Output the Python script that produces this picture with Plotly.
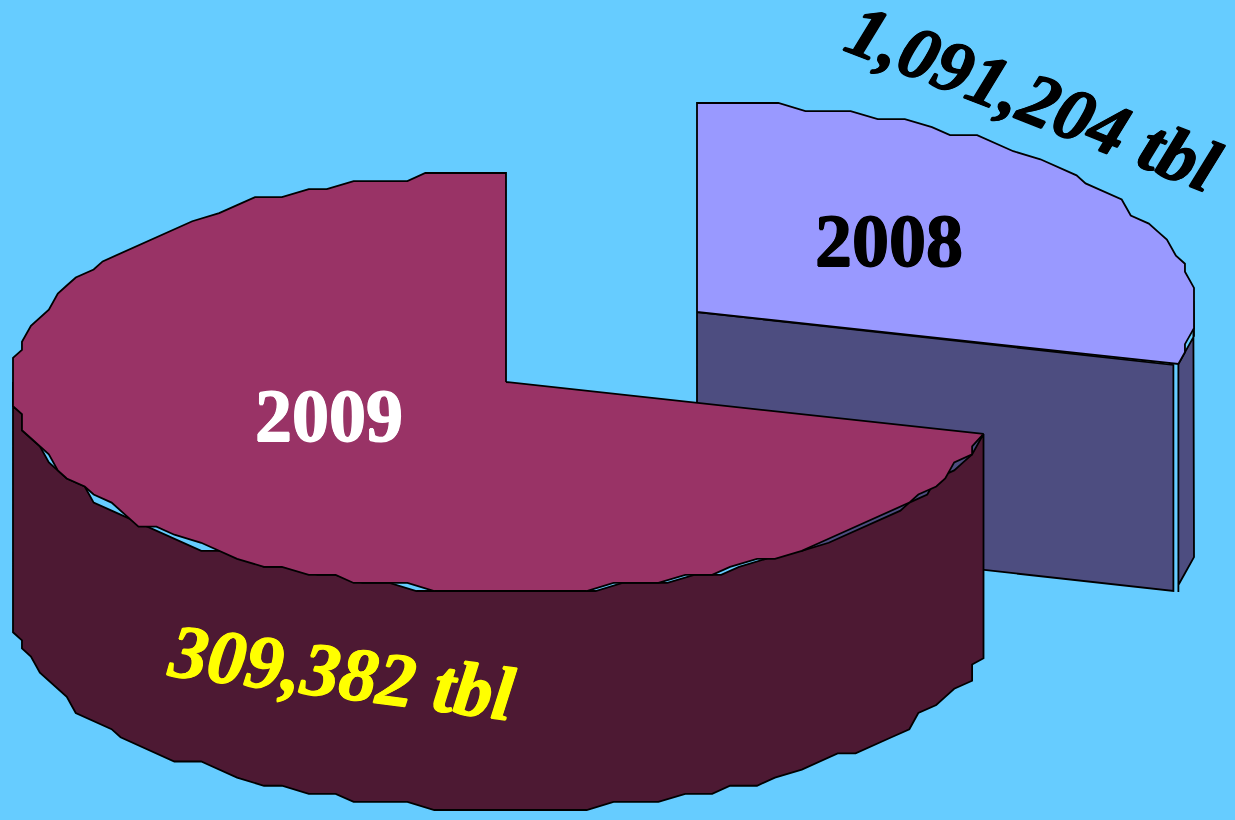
import math
import plotly.graph_objects as go

# Data
years = ["2008", "2009"]
barrels = ["1,091,204 tbl", "309,382 tbl"]
slice_shares = [0.29, 0.71]  # angular share of the pie as drawn in the picture

# Pie geometry (axis units equal image pixels)
START = 90.0
A, B = 493.0, 209.0
DEPTH = 226.0
CENTER_2009 = (506.0, 382.0)
CENTER_2008 = (697.0, 312.0)
STEP = 3.0

BG = "#66CCFF"
TOP_2008, WALL_2008 = "#9999FF", "#4D4D80"
TOP_2009, WALL_2009 = "#993366", "#4D1933"


def rim(center, a, b, t0, t1, dy=0.0, phase=0.0, step=STEP):
    """Points on the ellipse, from t0 to t1 in degrees, snapped to a coarse grid
    (the reference outline is stair-stepped)."""
    qx = a / round(a / 9)
    qy = b / round(b / 8)
    n = max(1, int(abs(t1 - t0) / step))
    pts = []
    for i in range(n + 1):
        t = t0 + (t1 - t0) * i / n
        if 0 < i < n:
            t += phase
        r = math.radians(t)
        x = a * math.cos(r)
        y = -b * math.sin(r)
        if 0 < i < n:
            x = round(x / qx) * qx
            y = round(y / qy) * qy
        pts.append((center[0] + x, center[1] + y + dy))
    return pts


def poly(pts, fill, width=1.8):
    xs, ys = zip(*pts)
    return go.Scatter(x=list(xs) + [xs[0]], y=list(ys) + [ys[0]], mode="lines", fill="toself",
                      fillcolor=fill, line=dict(color="black", width=width),
                      hoverinfo="skip", showlegend=False)


sweep_2008 = slice_shares[0] * 360
sweep_2009 = slice_shares[1] * 360
end_2008 = START - sweep_2008
end_2009 = START + sweep_2009

fig = go.Figure()

# 2008 exploded slice
A8 = 497.0
cx8, cy8 = CENTER_2008
edge = rim(CENTER_2008, A8, B, end_2008, end_2008)[0]
gap = 5.0
fig.add_trace(poly([(cx8, cy8), (edge[0] - gap, edge[1] + 1), (edge[0] - gap, edge[1] + 1 + DEPTH),
                    (cx8, cy8 + DEPTH)], WALL_2008))
wall_top = rim(CENTER_2008, A8, B, end_2008, 3)
wall_bot = rim(CENTER_2008, A8, B, 3, end_2008, dy=DEPTH - 5)
fig.add_trace(poly(wall_top + wall_bot + [(edge[0], edge[1] + DEPTH + 2)], WALL_2008))
fig.add_trace(poly([(cx8, cy8)] + rim(CENTER_2008, A8, B, START, end_2008), TOP_2008))

# 2009 slice
fig.add_trace(poly(rim(CENTER_2009, A, B, 180, end_2009, phase=0.9)
                   + rim(CENTER_2009, A, 202.0, end_2009, 180, dy=DEPTH), WALL_2009))
fig.add_trace(poly([CENTER_2009] + rim(CENTER_2009, A, B, START, end_2009), TOP_2009))

font = "Liberation Serif"
notes = [
    (889, 241, "<b>%s</b>" % years[0], "black", 74, 0),
    (329, 416, "<b>%s</b>" % years[1], "white", 74, 0),
    (1033, 98, "<b><i>%s</i></b>" % barrels[0], "black", 74, 21.5),
    (341, 672, "<b><i>%s</i></b>" % barrels[1], "#FFFF00", 76, 7.5),
]
for x, y, text, color, size, angle in notes:
    shadow = "0.7px 0 0 {0}, -0.7px 0 0 {0}, 0 0.7px 0 {0}, 0 -0.7px 0 {0}".format(color)
    fig.add_annotation(x=x, y=y, text=text, showarrow=False, textangle=angle, xanchor="center",
                       yanchor="middle", font=dict(family=font, size=size, color=color, shadow=shadow))

fig.update_layout(
    width=1235, height=820, margin=dict(l=0, r=0, t=0, b=0), paper_bgcolor=BG, plot_bgcolor=BG,
    xaxis=dict(range=[0, 1235], visible=False, fixedrange=True),
    yaxis=dict(range=[820, 0], visible=False, fixedrange=True),
    showlegend=False,
)
fig.write_html("out.html", config={"displayModeBar": False},
               post_script="document.body.style.margin='0';document.body.style.overflow='hidden';")
